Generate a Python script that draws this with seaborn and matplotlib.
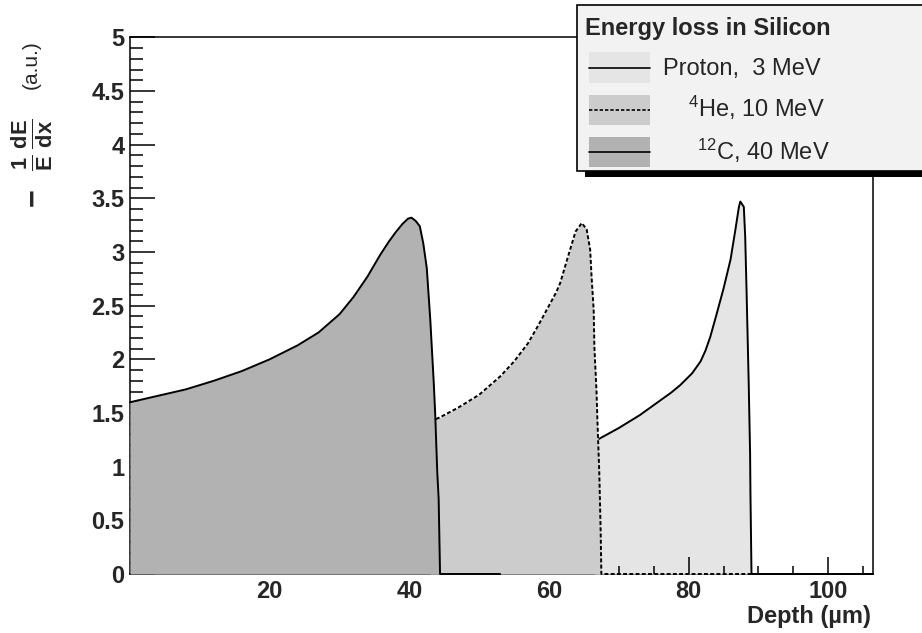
import matplotlib
matplotlib.use("Agg")
import numpy as np
import pandas as pd
import seaborn as sns
import matplotlib.pyplot as plt
from matplotlib.patches import Rectangle
from matplotlib.lines import Line2D

# ---------------- data ----------------
c_depth = [0, 4, 8, 12, 16, 20, 24, 27, 30, 32, 34, 35.8, 37, 38, 39, 39.8, 40.3,
           40.9, 41.5, 42.0, 42.5, 43.0, 43.5, 43.7, 44.0, 44.2, 44.4, 53.0]
c_loss = [1.60, 1.66, 1.72, 1.80, 1.89, 2.00, 2.13, 2.25, 2.42, 2.58, 2.77, 2.97, 3.09,
          3.18, 3.26, 3.31, 3.32, 3.29, 3.24, 3.08, 2.85, 2.37, 1.78, 1.50, 0.95, 0.70,
          0.00, 0.00]

he_depth = [43.0, 44.4, 47, 50, 53, 55, 57, 58.5, 60, 61, 61.6, 62.6, 63.8, 64.7, 65.4,
            65.9, 66.1, 66.4, 66.5, 66.8, 67.0, 67.2, 67.4, 67.5, 89.0]
he_loss = [1.42, 1.46, 1.55, 1.67, 1.84, 1.98, 2.15, 2.32, 2.50, 2.62, 2.71, 2.93, 3.19,
           3.27, 3.21, 3.02, 2.77, 2.46, 2.12, 1.71, 1.31, 0.95, 0.40, 0.00, 0.00]

p_depth = [66.5, 67.2, 70, 73, 76, 77.5, 78.8, 80.5, 81.7, 82.4, 83.1, 84.0, 85.0, 86.0,
           86.7, 87.2, 87.4, 87.9, 88.1, 88.3, 88.6, 88.8, 88.85, 89.0, 106.4]
p_loss = [1.24, 1.26, 1.36, 1.48, 1.62, 1.69, 1.76, 1.87, 1.98, 2.08, 2.21, 2.42, 2.66,
          2.93, 3.21, 3.42, 3.47, 3.42, 3.14, 2.62, 1.78, 1.12, 0.75, 0.00, 0.00]

series_labels = ["Proton,  3 MeV", r"${}^{4}$He, 10 MeV", r"${}^{12}$C, 40 MeV"]
legend_title = "Energy loss in Silicon"
x_ticks = [20, 40, 60, 80, 100]
x_tick_labels = ["20", "40", "60", "80", "100"]
y_ticks = [0, 0.5, 1, 1.5, 2, 2.5, 3, 3.5, 4, 4.5, 5]
y_tick_labels = ["0", "0.5", "1", "1.5", "2", "2.5", "3", "3.5", "4", "4.5", "5"]
x_label = "Depth (\u00b5m)"
y_label_unit = "(a.u.)"
y_label_frac = r"$\frac{\mathbf{1}}{\mathbf{E}}\,\frac{\mathbf{dE}}{\mathbf{dx}}$"
y_label_minus = "\u2212"

# ---------------- style ----------------
sns.set_theme(style="ticks")
plt.rcParams['font.family'] = ['Liberation Sans', 'DejaVu Sans']
plt.rcParams['mathtext.fontset'] = 'custom'
plt.rcParams['mathtext.rm'] = 'Liberation Sans'
plt.rcParams['mathtext.bf'] = 'Liberation Sans:bold'
plt.rcParams['mathtext.it'] = 'Liberation Sans:italic'
plt.rcParams['mathtext.sf'] = 'Liberation Sans'

W, H = 922, 633
def fx(px):
    return px / W
def fy(py):
    return 1 - py / H

col_p, col_he, col_c = '#e5e5e5', '#cccccc', '#b2b2b2'
dash = (0, (2.0, 1.2))
FS = 17

fig = plt.figure(figsize=(W / 100, H / 100), dpi=100)
fig.patch.set_facecolor('white')
ax = fig.add_axes([fx(130), fy(574), (873 - 130) / W, (574 - 37.3) / H])
ax.set_facecolor('white')

df_p = pd.DataFrame({'depth': p_depth, 'loss': p_loss})
df_he = pd.DataFrame({'depth': he_depth, 'loss': he_loss})
df_c = pd.DataFrame({'depth': c_depth, 'loss': c_loss})

# fills
ax.fill_between(df_p['depth'], df_p['loss'], 0, color=col_p, lw=0, zorder=1.2)
ax.fill_between(df_he['depth'], df_he['loss'], 0, color=col_he, lw=0, zorder=2.0)
ax.fill_between(df_c['depth'], df_c['loss'], 0, color=col_c, lw=0, zorder=3.0)

# outlines via seaborn
sns.lineplot(data=df_p, x='depth', y='loss', ax=ax, color='black', lw=1.4,
             estimator=None, sort=False, legend=False, zorder=1.3, clip_on=False)
sns.lineplot(data=df_he, x='depth', y='loss', ax=ax, color='black', lw=1.4,
             estimator=None, sort=False, legend=False, zorder=2.1, linestyle=dash,
             clip_on=False)
sns.lineplot(data=df_c, x='depth', y='loss', ax=ax, color='black', lw=1.4,
             estimator=None, sort=False, legend=False, zorder=3.1, clip_on=False)

ax.set_xlim(0, 106.4)
ax.set_ylim(0, 5)
ax.set_xlabel("")
ax.set_ylabel("")

for s in ax.spines.values():
    s.set_zorder(1.0)
    s.set_linewidth(1.1)
    s.set_color('black')
    s.set_visible(True)

ax.xaxis.set_zorder(1.5)
ax.yaxis.set_zorder(1.5)

ax.set_xticks(x_ticks)
ax.set_xticklabels(x_tick_labels, fontsize=FS, fontweight='bold')
ax.set_xticks(np.arange(5, 106, 5), minor=True)
ax.set_yticks(y_ticks)
ax.set_yticklabels(y_tick_labels, fontsize=FS, fontweight='bold')
ax.set_yticks(np.arange(0, 5.01, 0.1), minor=True)

ax.tick_params(axis='x', which='major', direction='in', length=12, width=1.1, pad=4,
               top=False, color='black')
ax.tick_params(axis='x', which='minor', direction='in', length=6, width=1.1, top=False,
               color='black')
ax.tick_params(axis='y', which='major', direction='in', length=18, width=1.1, pad=4,
               right=False, color='black')
ax.tick_params(axis='y', which='minor', direction='in', length=9, width=1.1, right=False,
               color='black')
ax.grid(False)

# axis titles
fig.text(fx(871), fy(623), x_label, ha='right', va='baseline', fontsize=FS,
         fontweight='bold')
fig.text(fx(31), fy(40), y_label_unit, rotation=90, ha='center', va='top', fontsize=15)
fig.text(fx(32), fy(118), y_label_frac, rotation=90, ha='center', va='top', fontsize=22.5)
fig.text(fx(33), fy(188), y_label_minus, rotation=90, ha='center', va='top', fontsize=22,
         fontweight='bold')

# ---------------- legend (drawn by hand, ROOT style) ----------------
fig.add_artist(Rectangle((fx(585), fy(177)), (960 - 585) / W, (177 - 8) / H,
                         transform=fig.transFigure, facecolor='black', edgecolor='none',
                         zorder=20))
fig.add_artist(Rectangle((fx(577), fy(171)), (960 - 577) / W, (171 - 5) / H,
                         transform=fig.transFigure, facecolor='#f2f2f2',
                         edgecolor='black', lw=1.2, zorder=21))
fig.text(fx(585), fy(35), legend_title, fontsize=FS, fontweight='bold', ha='left',
         va='baseline', zorder=22)

rows = [(52, 83, col_p, '-', 663, 75),
        (95, 125, col_he, dash, 688, 117),
        (137, 167, col_c, '-', 697, 160)]
for (top, bot, col, ls, tx, ty), lab in zip(rows, series_labels):
    fig.add_artist(Rectangle((fx(589), fy(bot)), (650 - 589) / W, (bot - top) / H,
                             transform=fig.transFigure, facecolor=col, edgecolor='none',
                             zorder=22))
    mid = (top + bot) / 2
    fig.add_artist(Line2D([fx(589), fx(650)], [fy(mid), fy(mid)],
                          transform=fig.transFigure, color='black', lw=1.2,
                          linestyle=ls, zorder=23))
    fig.text(fx(tx), fy(ty), lab, fontsize=FS, ha='left', va='baseline', zorder=23)

fig.savefig("out.png", dpi=100)
